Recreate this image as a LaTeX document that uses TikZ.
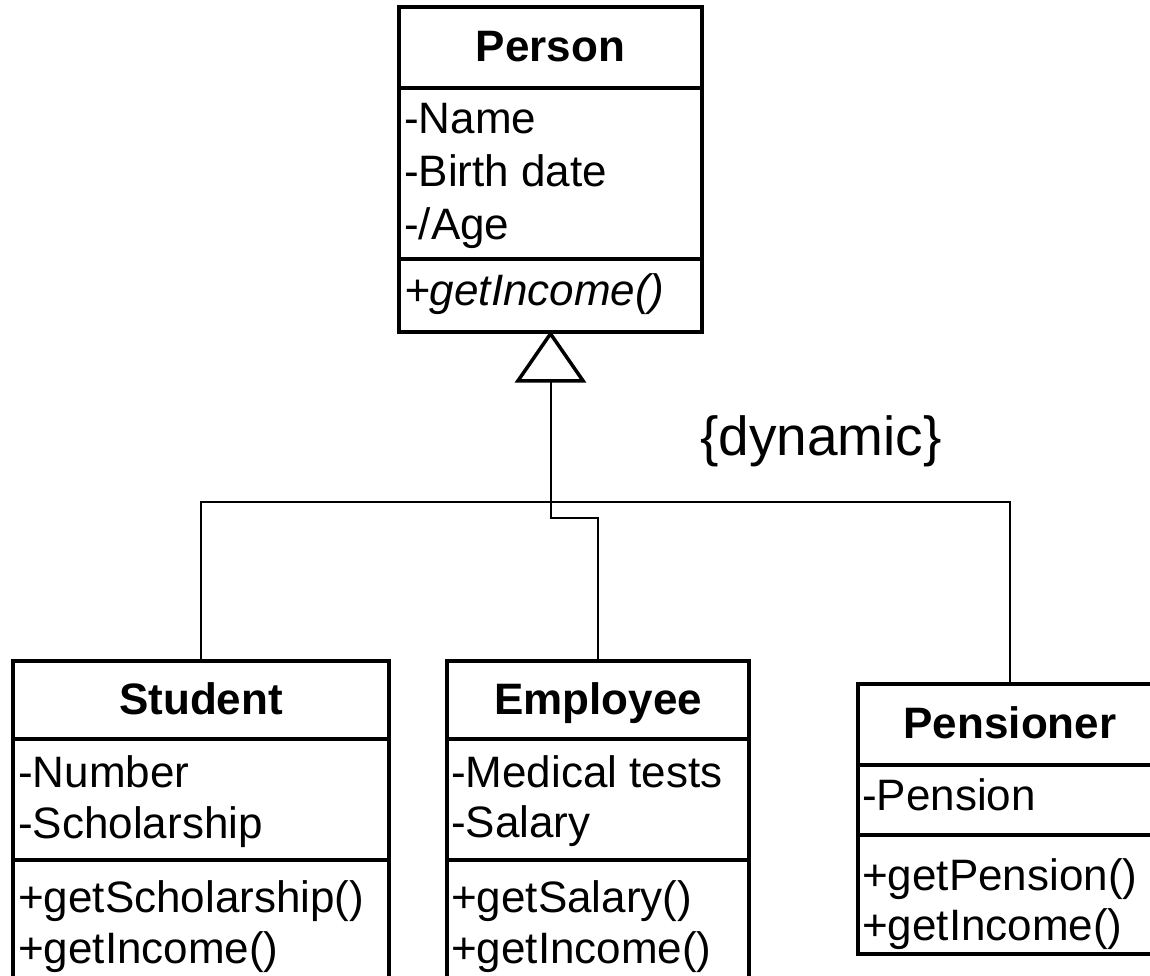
\documentclass[tikz,border=0pt]{standalone}
\usepackage{fontspec}
\setmainfont{Liberation Sans}
\begin{document}
\begin{tikzpicture}[x=1pt,y=-1pt,
  classbox/.style={draw, line width=3.5pt, inner sep=0pt},
  divider/.style={line width=3.5pt},
  member/.style={anchor=base west, inner sep=0pt, font=\fontsize{44}{52}\selectfont},
  classname/.style={anchor=base, inner sep=0pt, font=\fontsize{44}{52}\selectfont\bfseries},
  link/.style={line width=2.5pt},
  genhead/.style={draw, line width=3.5pt, line join=miter, fill=white},
  constraint/.style={anchor=base west, inner sep=0pt, font=\fontsize{55}{66}\selectfont}
]
\fill[white] (0,0) rectangle (1150,976);
\useasboundingbox (0,0) rectangle (1150,976);

% class boxes
\node[classbox, minimum width=303pt, minimum height=325pt] (person) at (550.5,169.5) {};
\node[classbox, minimum width=376pt, minimum height=339pt] (student) at (201,830.5) {};
\node[classbox, minimum width=302pt, minimum height=339pt] (employee) at (598,830.5) {};
\node[classbox, minimum width=304pt, minimum height=270pt] (pensioner) at (1010,819) {};

% compartment separators
\draw[divider] (person.west |- 0,88) -- (person.east |- 0,88);
\draw[divider] (person.west |- 0,259) -- (person.east |- 0,259);
\draw[divider] (student.west |- 0,739) -- (student.east |- 0,739);
\draw[divider] (student.west |- 0,860) -- (student.east |- 0,860);
\draw[divider] (employee.west |- 0,739) -- (employee.east |- 0,739);
\draw[divider] (employee.west |- 0,860) -- (employee.east |- 0,860);
\draw[divider] (pensioner.west |- 0,765) -- (pensioner.east |- 0,765);
\draw[divider] (pensioner.west |- 0,835) -- (pensioner.east |- 0,835);

% Person
\node[classname] (personname) at (550.5,62) {Person};
\node[member] (pa1) at (404,134) {-Name};
\node[member] (pa2) at (404,187) {-Birth date};
\node[member] (pa3) at (404,240) {-/Age};
\node[member] (pm1) at (404,305) {\itshape +getIncome()};

% Student
\node[classname] (studentname) at (201,714) {Student};
\node[member] (sa1) at (18,787) {-Number};
\node[member] (sa2) at (18,838) {-Scholarship};
\node[member] (sm1) at (18,912) {+getScholarship()};
\node[member] (sm2) at (18,963) {+getIncome()};

% Employee
\node[classname] (employeename) at (598,714) {Employee};
\node[member] (ea1) at (451,787) {-Medical tests};
\node[member] (ea2) at (451,837) {-Salary};
\node[member] (em1) at (451,912) {+getSalary()};
\node[member] (em2) at (451,963) {+getIncome()};

% Pensioner
\node[classname] (pensionername) at (1010,738) {Pensioner};
\node[member] (na1) at (862,810) {-Pension};
\node[member] (nm1) at (862,890) {+getPension()};
\node[member] (nm2) at (862,940) {+getIncome()};

% generalization
\coordinate (tribase) at (551,379);
\draw[link] (student.north) -- (student.north |- 0,502) -- (pensioner.north |- 0,502) -- (pensioner.north);
\draw[link] (tribase) -- (tribase |- 0,518) -- (employee.north |- 0,518) -- (employee.north);
\draw[genhead] (person.south) -- ++(-32.5,47) -- ++(65,0) -- cycle;

\node[constraint] (dyn) at (700,455) {\{dynamic\}};
\end{tikzpicture}
\end{document}
